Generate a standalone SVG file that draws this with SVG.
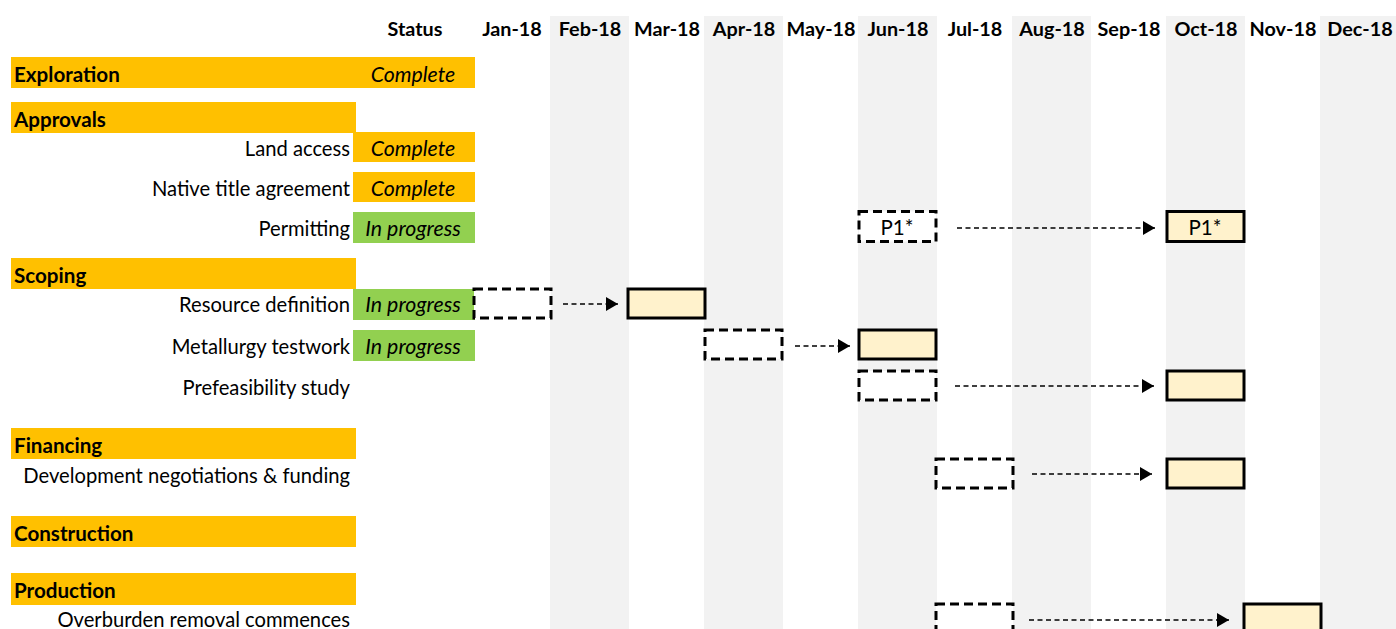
<svg xmlns="http://www.w3.org/2000/svg" width="1396" height="629" viewBox="0 0 1396 629">
<style>
text{font-family:Lato,"Liberation Sans",sans-serif;font-size:20.2px;fill:#000}
.h{font-weight:bold;text-anchor:middle;font-size:19.8px}
.sec{font-weight:bold;font-size:20.6px}
.lbl{text-anchor:end}
.st{font-style:italic;text-anchor:middle;font-size:21.3px}
.stripe{fill:#f2f2f2}
.org{fill:#ffc000}
.grn{fill:#92d050}
.plan{fill:#fff;stroke:#000;stroke-width:3;stroke-dasharray:9,5}
.act{fill:#fff2cc;stroke:#000;stroke-width:3}
.bt{text-anchor:middle;font-size:20.5px}
.conn{stroke:#000;stroke-width:1.3;stroke-dasharray:5,3.5;fill:none;marker-end:url(#ah)}
</style>
<defs>
<marker id="ah" markerWidth="12" markerHeight="14" refX="12" refY="7" orient="auto" markerUnits="userSpaceOnUse">
<path d="M0,0 L12,7 L0,14 Z" fill="#000"/>
</marker>
</defs>
<rect width="1396" height="629" fill="#fff"/>
<g id="stripes">
<rect class="stripe" x="550" y="16" width="79" height="613"/>
<rect class="stripe" x="704" y="16" width="79" height="613"/>
<rect class="stripe" x="858" y="16" width="79" height="613"/>
<rect class="stripe" x="1012" y="16" width="79" height="613"/>
<rect class="stripe" x="1166" y="16" width="79" height="613"/>
<rect class="stripe" x="1320" y="16" width="76" height="613"/>
</g>
<g id="header">
<text class="h" x="415" y="36">Status</text>
<text class="h" x="512" y="36">Jan-18</text>
<text class="h" x="590" y="36">Feb-18</text>
<text class="h" x="667" y="36">Mar-18</text>
<text class="h" x="744" y="36">Apr-18</text>
<text class="h" x="821" y="36">May-18</text>
<text class="h" x="898" y="36">Jun-18</text>
<text class="h" x="975" y="36">Jul-18</text>
<text class="h" x="1052" y="36">Aug-18</text>
<text class="h" x="1129" y="36">Sep-18</text>
<text class="h" x="1206" y="36">Oct-18</text>
<text class="h" x="1283" y="36">Nov-18</text>
<text class="h" x="1360" y="36">Dec-18</text>
</g>
<g id="exploration">
<rect class="org" x="11" y="57" width="464" height="31"/>
<text class="sec" x="14" y="81.5">Exploration</text>
<text class="st" x="413" y="81.5">Complete</text>
</g>
<g id="approvals">
<rect class="org" x="11" y="102" width="345" height="31"/>
<text class="sec" x="14" y="126.5">Approvals</text>
</g>
<g id="land-access">
<rect class="org" x="353" y="132" width="122" height="30"/>
<text class="lbl" x="350" y="155.5">Land access</text>
<text class="st" x="413" y="155.5">Complete</text>
</g>
<g id="native-title">
<rect class="org" x="353" y="172" width="122" height="30"/>
<text class="lbl" x="350" y="195.5">Native title agreement</text>
<text class="st" x="413" y="195.5">Complete</text>
</g>
<g id="permitting">
<rect class="grn" x="353" y="212" width="122" height="31"/>
<text class="lbl" x="350" y="235.5">Permitting</text>
<text class="st" x="413" y="235.5">In progress</text>
</g>
<g id="scoping">
<rect class="org" x="11" y="258" width="345" height="31"/>
<text class="sec" x="14" y="282.5">Scoping</text>
</g>
<g id="resource-definition">
<rect class="grn" x="353" y="289" width="122" height="31"/>
<text class="lbl" x="350" y="311.5">Resource definition</text>
<text class="st" x="413" y="311.5">In progress</text>
</g>
<g id="metallurgy">
<rect class="grn" x="353" y="330" width="122" height="31"/>
<text class="lbl" x="350" y="353.5">Metallurgy testwork</text>
<text class="st" x="413" y="353.5">In progress</text>
</g>
<g id="prefeasibility">
<text class="lbl" x="350" y="394.5">Prefeasibility study</text>
</g>
<g id="financing">
<rect class="org" x="11" y="428" width="345" height="31"/>
<text class="sec" x="14" y="452.5">Financing</text>
</g>
<g id="development">
<text class="lbl" x="350" y="482.5">Development negotiations &amp; funding</text>
</g>
<g id="construction">
<rect class="org" x="11" y="516" width="345" height="31"/>
<text class="sec" x="14" y="540.5">Construction</text>
</g>
<g id="production">
<rect class="org" x="11" y="573" width="345" height="32"/>
<text class="sec" x="14" y="597.5">Production</text>
</g>
<g id="overburden">
<text class="lbl" x="350" y="627">Overburden removal commences</text>
</g>
<g id="bar-permit-plan">
<rect class="plan" x="859" y="211.5" width="77" height="30"/>
<text class="bt" x="897" y="235">P1*</text>
</g>
<g id="bar-permit-actual">
<rect class="act" x="1167" y="211.5" width="77" height="30"/>
<text class="bt" x="1205" y="235">P1*</text>
</g>
<g id="bar-resource-plan"><rect class="plan" x="474" y="289" width="77" height="29"/></g>
<g id="bar-resource-actual"><rect class="act" x="628" y="289" width="77" height="29"/></g>
<g id="bar-metallurgy-plan"><rect class="plan" x="705" y="330" width="77" height="29"/></g>
<g id="bar-metallurgy-actual"><rect class="act" x="859" y="330" width="77" height="29"/></g>
<g id="bar-prefeas-plan"><rect class="plan" x="859" y="371" width="77" height="29"/></g>
<g id="bar-prefeas-actual"><rect class="act" x="1167" y="371" width="77" height="29"/></g>
<g id="bar-dev-plan"><rect class="plan" x="936" y="459" width="77" height="29"/></g>
<g id="bar-dev-actual"><rect class="act" x="1167" y="459" width="77" height="29"/></g>
<g id="bar-over-plan"><rect class="plan" x="936" y="604" width="77" height="29"/></g>
<g id="bar-over-actual"><rect class="act" x="1244" y="604" width="77" height="29"/></g>
<g id="connectors">
<path class="conn" d="M957,228 L1155,228"/>
<path class="conn" d="M563,304 L618,304"/>
<path class="conn" d="M795,346 L850,346"/>
<path class="conn" d="M955,386 L1154,386"/>
<path class="conn" d="M1032,474 L1152,474"/>
<path class="conn" d="M1029,620 L1229,620"/>
</g>
</svg>
